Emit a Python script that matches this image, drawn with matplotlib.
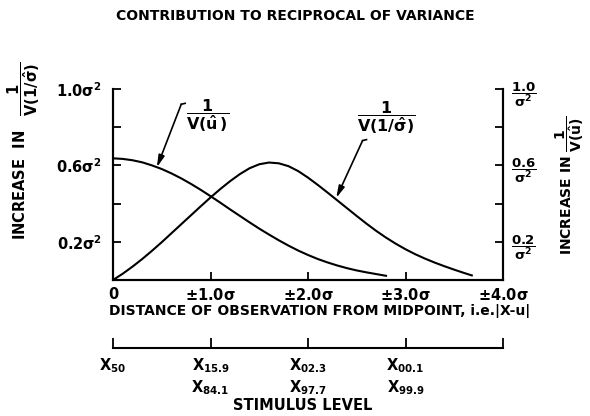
import matplotlib
matplotlib.use('Agg')
import matplotlib.pyplot as plt

plt.rcParams['font.family'] = 'DejaVu Sans'
plt.rcParams['font.weight'] = 'bold'
plt.rcParams['axes.labelweight'] = 'bold'
plt.rcParams['mathtext.fontset'] = 'dejavusans'
plt.rcParams['mathtext.default'] = 'bf'

# distance from midpoint (units of sigma) and contribution to 1/V(u)
dist_u = [0.0, 0.1, 0.2, 0.3, 0.4, 0.5, 0.6, 0.7, 0.8, 0.9, 1.0, 1.1, 1.2, 1.3, 1.4,
          1.5, 1.6, 1.7, 1.8, 1.9, 2.0, 2.1, 2.2, 2.3, 2.4, 2.5, 2.6, 2.7, 2.8]
contrib_u = [0.637, 0.634, 0.627, 0.616, 0.600, 0.581, 0.558, 0.532, 0.503, 0.472,
             0.439, 0.405, 0.370, 0.336, 0.302, 0.269, 0.238, 0.208, 0.180, 0.154,
             0.131, 0.110, 0.092, 0.076, 0.062, 0.050, 0.040, 0.031, 0.022]

# contribution to 1/V(1/sigma)
dist_s = [0.0, 0.1, 0.2, 0.3, 0.4, 0.5, 0.6, 0.7, 0.8, 0.9, 1.0, 1.1, 1.2, 1.3, 1.4,
          1.5, 1.6, 1.7, 1.8, 1.9, 2.0, 2.1, 2.2, 2.3, 2.4, 2.5, 2.6, 2.7, 2.8, 2.9,
          3.0, 3.1, 3.2, 3.3, 3.4, 3.5, 3.6, 3.68]
contrib_s = [0.0, 0.033, 0.070, 0.110, 0.153, 0.198, 0.245, 0.292, 0.339, 0.386,
             0.432, 0.476, 0.517, 0.554, 0.585, 0.606, 0.615, 0.611, 0.596, 0.570,
             0.536, 0.498, 0.458, 0.417, 0.376, 0.335, 0.295, 0.257, 0.222, 0.190,
             0.161, 0.135, 0.112, 0.091, 0.072, 0.054, 0.037, 0.024]

x_ticks = [0, 1, 2, 3, 4]
x_labels = ['0', r'$\pm$1.0$\sigma$', r'$\pm$2.0$\sigma$', r'$\pm$3.0$\sigma$', r'$\pm$4.0$\sigma$']
y_ticks = [0.2, 0.4, 0.6, 0.8, 1.0]
y_left_labels = [r'0.2$\sigma^2$', '', r'0.6$\sigma^2$', '', r'1.0$\sigma^2$']
y_right_labels = [r'$\dfrac{0.2}{\sigma^2}$', '', r'$\dfrac{0.6}{\sigma^2}$', '',
                  r'$\dfrac{1.0}{\sigma^2}$']
stim_ticks = [0, 1, 2, 3, 4]
stim_labels = [r'$X_{50}$', '$X_{15.9}$\n$X_{84.1}$', '$X_{02.3}$\n$X_{97.7}$',
               '$X_{00.1}$\n$X_{99.9}$', '']

W, H = 590, 416
fig = plt.figure(figsize=(5.9, 4.16), dpi=100)
ax = fig.add_axes([113 / W, 1 - 280 / H, 390 / W, 191 / H])
ax.plot(dist_u, contrib_u, color='black', lw=1.5, solid_joinstyle='round')
ax.plot(dist_s, contrib_s, color='black', lw=1.5, solid_joinstyle='round')
ax.set_xlim(0, 4)
ax.set_ylim(0, 1)
ax.spines['top'].set_visible(False)
for s in ax.spines.values():
    s.set_linewidth(1.5)
ax.set_xticks(x_ticks)
ax.set_xticklabels(x_labels)
ax.set_yticks(y_ticks)
ax.set_yticklabels(y_left_labels)
ax.tick_params(axis='both', direction='in', length=6, width=1.3, labelsize=10.5)
ax.tick_params(axis='x', pad=5)
ax.tick_params(axis='y', pad=8)
ax.set_xlabel('DISTANCE OF OBSERVATION FROM MIDPOINT, i.e.|X-u|', fontsize=10)
ax.xaxis.set_label_coords((320 - 113) / 390, -0.125)

ax2 = ax.twinx()
ax2.set_ylim(0, 1)
ax2.spines['top'].set_visible(False)
for s in ax2.spines.values():
    s.set_linewidth(1.5)
ax2.set_yticks(y_ticks)
ax2.set_yticklabels(y_right_labels)
ax2.tick_params(axis='y', direction='in', length=6, width=1.3, labelsize=9.5, pad=6)

# curve labels with leaders
arrow = dict(arrowstyle='-|>,head_length=0.7,head_width=0.18', color='black', lw=1.2,
             shrinkA=0, shrinkB=0)
ax.text(0.97, 0.86, r'$\dfrac{1}{V(\hat{u}\,)}$', ha='center', va='center', fontsize=11.5)
ax.annotate('', xy=(0.45, 0.59), xytext=(0.70, 0.92), arrowprops=arrow)
ax.plot([0.70, 0.74], [0.92, 0.925], color='black', lw=1.2)
ax.text(2.80, 0.85, r'$\dfrac{1}{V(1/\hat{\sigma})}$', ha='center', va='center', fontsize=11.5)
ax.annotate('', xy=(2.29, 0.43), xytext=(2.56, 0.73), arrowprops=arrow)
ax.plot([2.56, 2.60], [0.73, 0.735], color='black', lw=1.2)

# stimulus level scale
ax3 = fig.add_axes([113 / W, 1 - 348 / H, 390 / W, 0.001])
ax3.set_xlim(0, 4)
for side in ['top', 'left', 'right']:
    ax3.spines[side].set_visible(False)
ax3.spines['bottom'].set_linewidth(1.5)
ax3.set_yticks([])
ax3.set_xticks(stim_ticks)
ax3.set_xticklabels(stim_labels, linespacing=1.25)
ax3.tick_params(axis='x', direction='in', length=7, width=1.3, labelsize=10.5, pad=6)

fig.text(303 / W, 1 - 406 / H, 'STIMULUS LEVEL', ha='center', va='center', fontsize=10.5)
fig.text(0.5, 1 - 16 / H, 'CONTRIBUTION TO RECIPROCAL OF VARIANCE', ha='center', va='center',
         fontsize=10)
fig.text(24 / W, 1 - 240 / H, r'INCREASE  IN   $\dfrac{1}{V(1/\hat{\sigma})}$', rotation=90,
         ha='center', va='bottom', fontsize=10.5)
fig.text(570 / W, 1 - 255 / H, r'INCREASE IN $\dfrac{1}{V(\hat{u})}$', rotation=90,
         ha='center', va='bottom', fontsize=10)

fig.savefig('out.png', dpi=100)
